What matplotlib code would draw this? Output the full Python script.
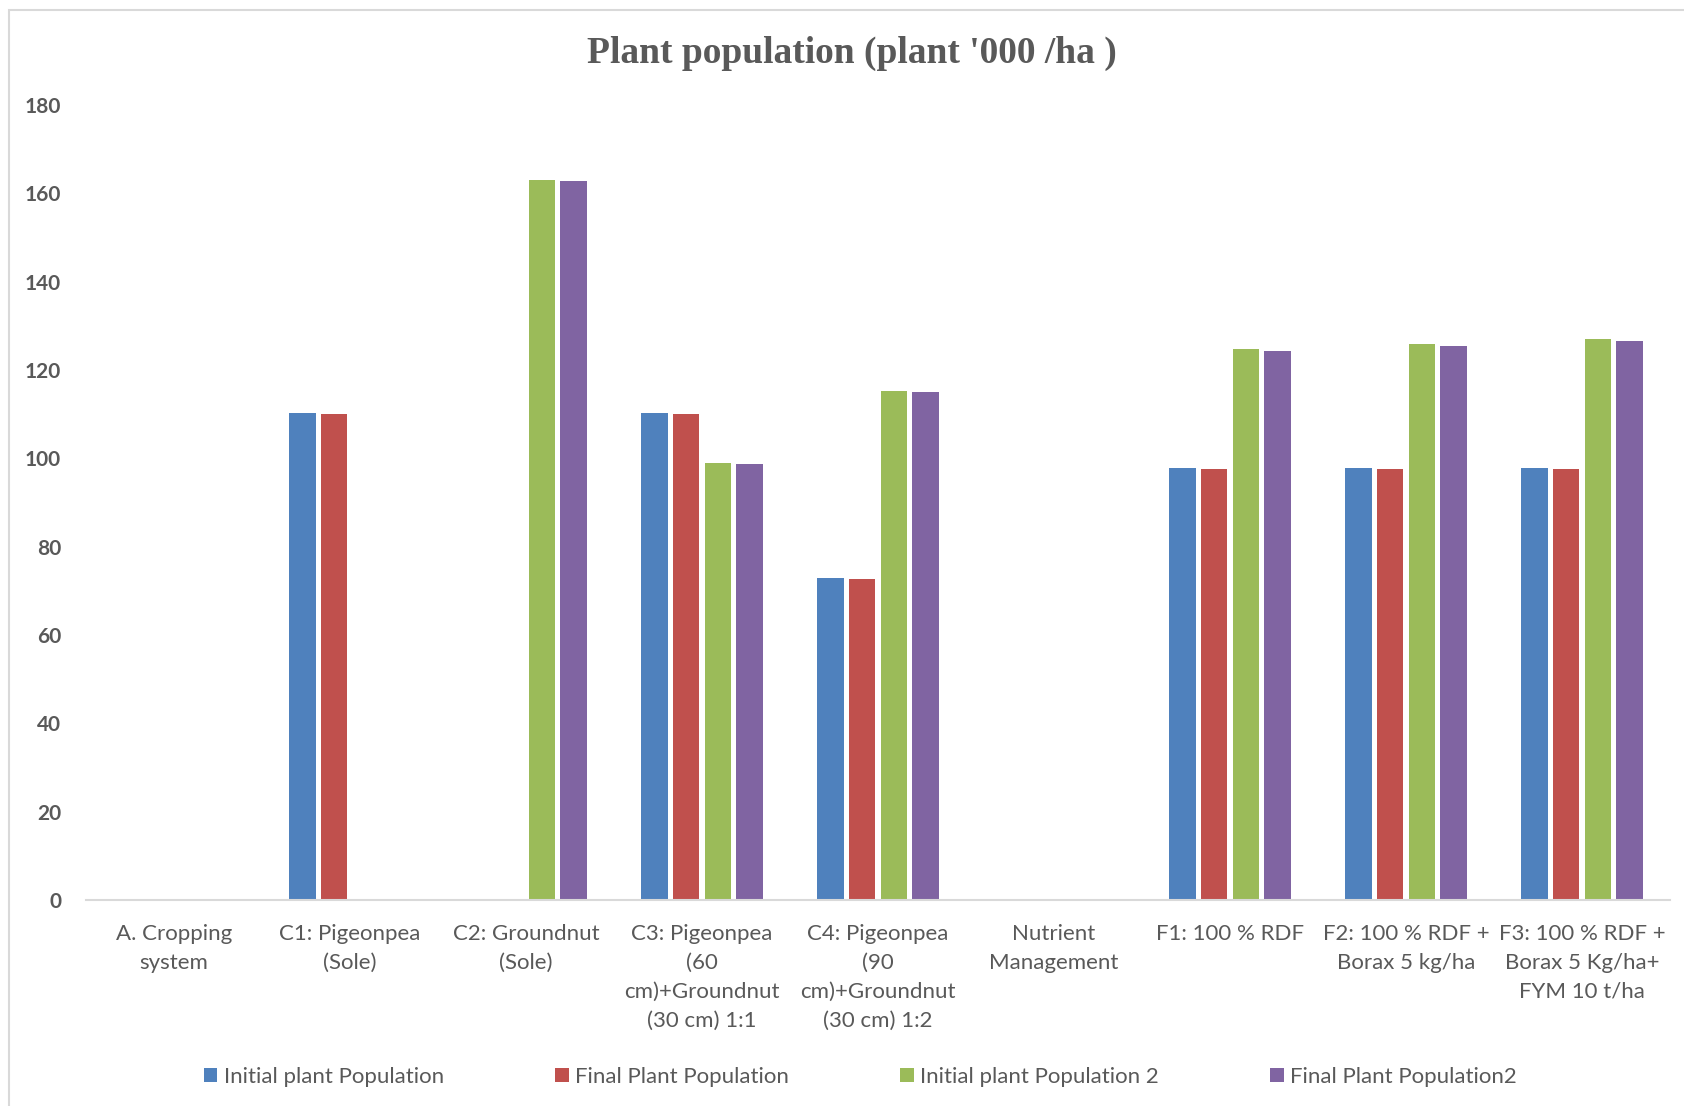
import numpy as np
import matplotlib.pyplot as plt
from matplotlib.patches import Rectangle

categories = ['A. Cropping\nsystem', 'C1: Pigeonpea\n(Sole)', 'C2: Groundnut\n(Sole)',
              'C3: Pigeonpea\n(60\ncm)+Groundnut\n(30 cm) 1:1',
              'C4: Pigeonpea\n(90\ncm)+Groundnut\n(30 cm) 1:2',
              'Nutrient\nManagement', 'F1: 100 % RDF',
              'F2: 100 % RDF +\nBorax 5 kg/ha',
              'F3: 100 % RDF +\nBorax 5 Kg/ha+\nFYM 10 t/ha']

initial_pop = [np.nan, 110.2, np.nan, 110.2, 73.0, np.nan, 97.8, 97.8, 97.8]
final_pop = [np.nan, 110.0, np.nan, 110.0, 72.7, np.nan, 97.5, 97.5, 97.5]
initial_pop2 = [np.nan, np.nan, 163.0, 99.0, 115.3, np.nan, 124.8, 125.8, 127.0]
final_pop2 = [np.nan, np.nan, 162.7, 98.8, 115.1, np.nan, 124.3, 125.5, 126.5]

series = [('Initial plant Population', initial_pop, '#4F81BD'),
          ('Final Plant Population', final_pop, '#C0504D'),
          ('Initial plant Population 2', initial_pop2, '#9BBB59'),
          ('Final Plant Population2', final_pop2, '#8064A2')]

fig = plt.figure(figsize=(16.84, 11.06), dpi=100)
fig.patches.append(Rectangle((9/1684, -0.1), 1.2, 1 - 10/1106 + 0.1,
                             transform=fig.transFigure, fill=False,
                             edgecolor='#d9d9d9', linewidth=1.5))

ax = fig.add_axes([86/1684, 1 - 900/1106, 1584/1684, 795/1106])
x = np.arange(len(categories))
step = 0.18
width = 0.15
for i, (name, vals, col) in enumerate(series):
    ax.bar(x + (i - 1.5) * step, vals, width, color=col, label=name)

ax.set_xlim(-0.5, len(categories) - 0.5)
ax.set_ylim(0, 180)
ax.set_yticks(np.arange(0, 181, 20))
ax.set_xticks(x)
ax.set_xticklabels(categories, fontsize=16, family='Lato', color='#595959',
                   linespacing=1.56, va='top')
for lab in ax.get_yticklabels():
    lab.set_fontsize(15)
    lab.set_fontweight('bold')
    lab.set_family('Lato')
    lab.set_color('#595959')
ax.tick_params(axis='both', length=0)
ax.tick_params(axis='x', pad=17)
ax.tick_params(axis='y', pad=18)
for s in ['top', 'right', 'left']:
    ax.spines[s].set_visible(False)
ax.spines['bottom'].set_color('#d9d9d9')
ax.spines['bottom'].set_linewidth(1.5)

fig.text(0.506, 1 - 53/1106, "Plant population (plant '000 /ha )", ha='center', va='center',
         fontsize=27, fontweight='bold', family='Liberation Serif', color='#595959')

fig.legend(loc='center', bbox_to_anchor=(0.511, 1 - 1077/1106), ncol=4, frameon=False,
           prop={'family': 'Lato', 'size': 16}, labelcolor='#595959',
           handlelength=0.6, handleheight=0.6, handletextpad=0.3, columnspacing=5.0)

plt.savefig('out.png', dpi=100)
